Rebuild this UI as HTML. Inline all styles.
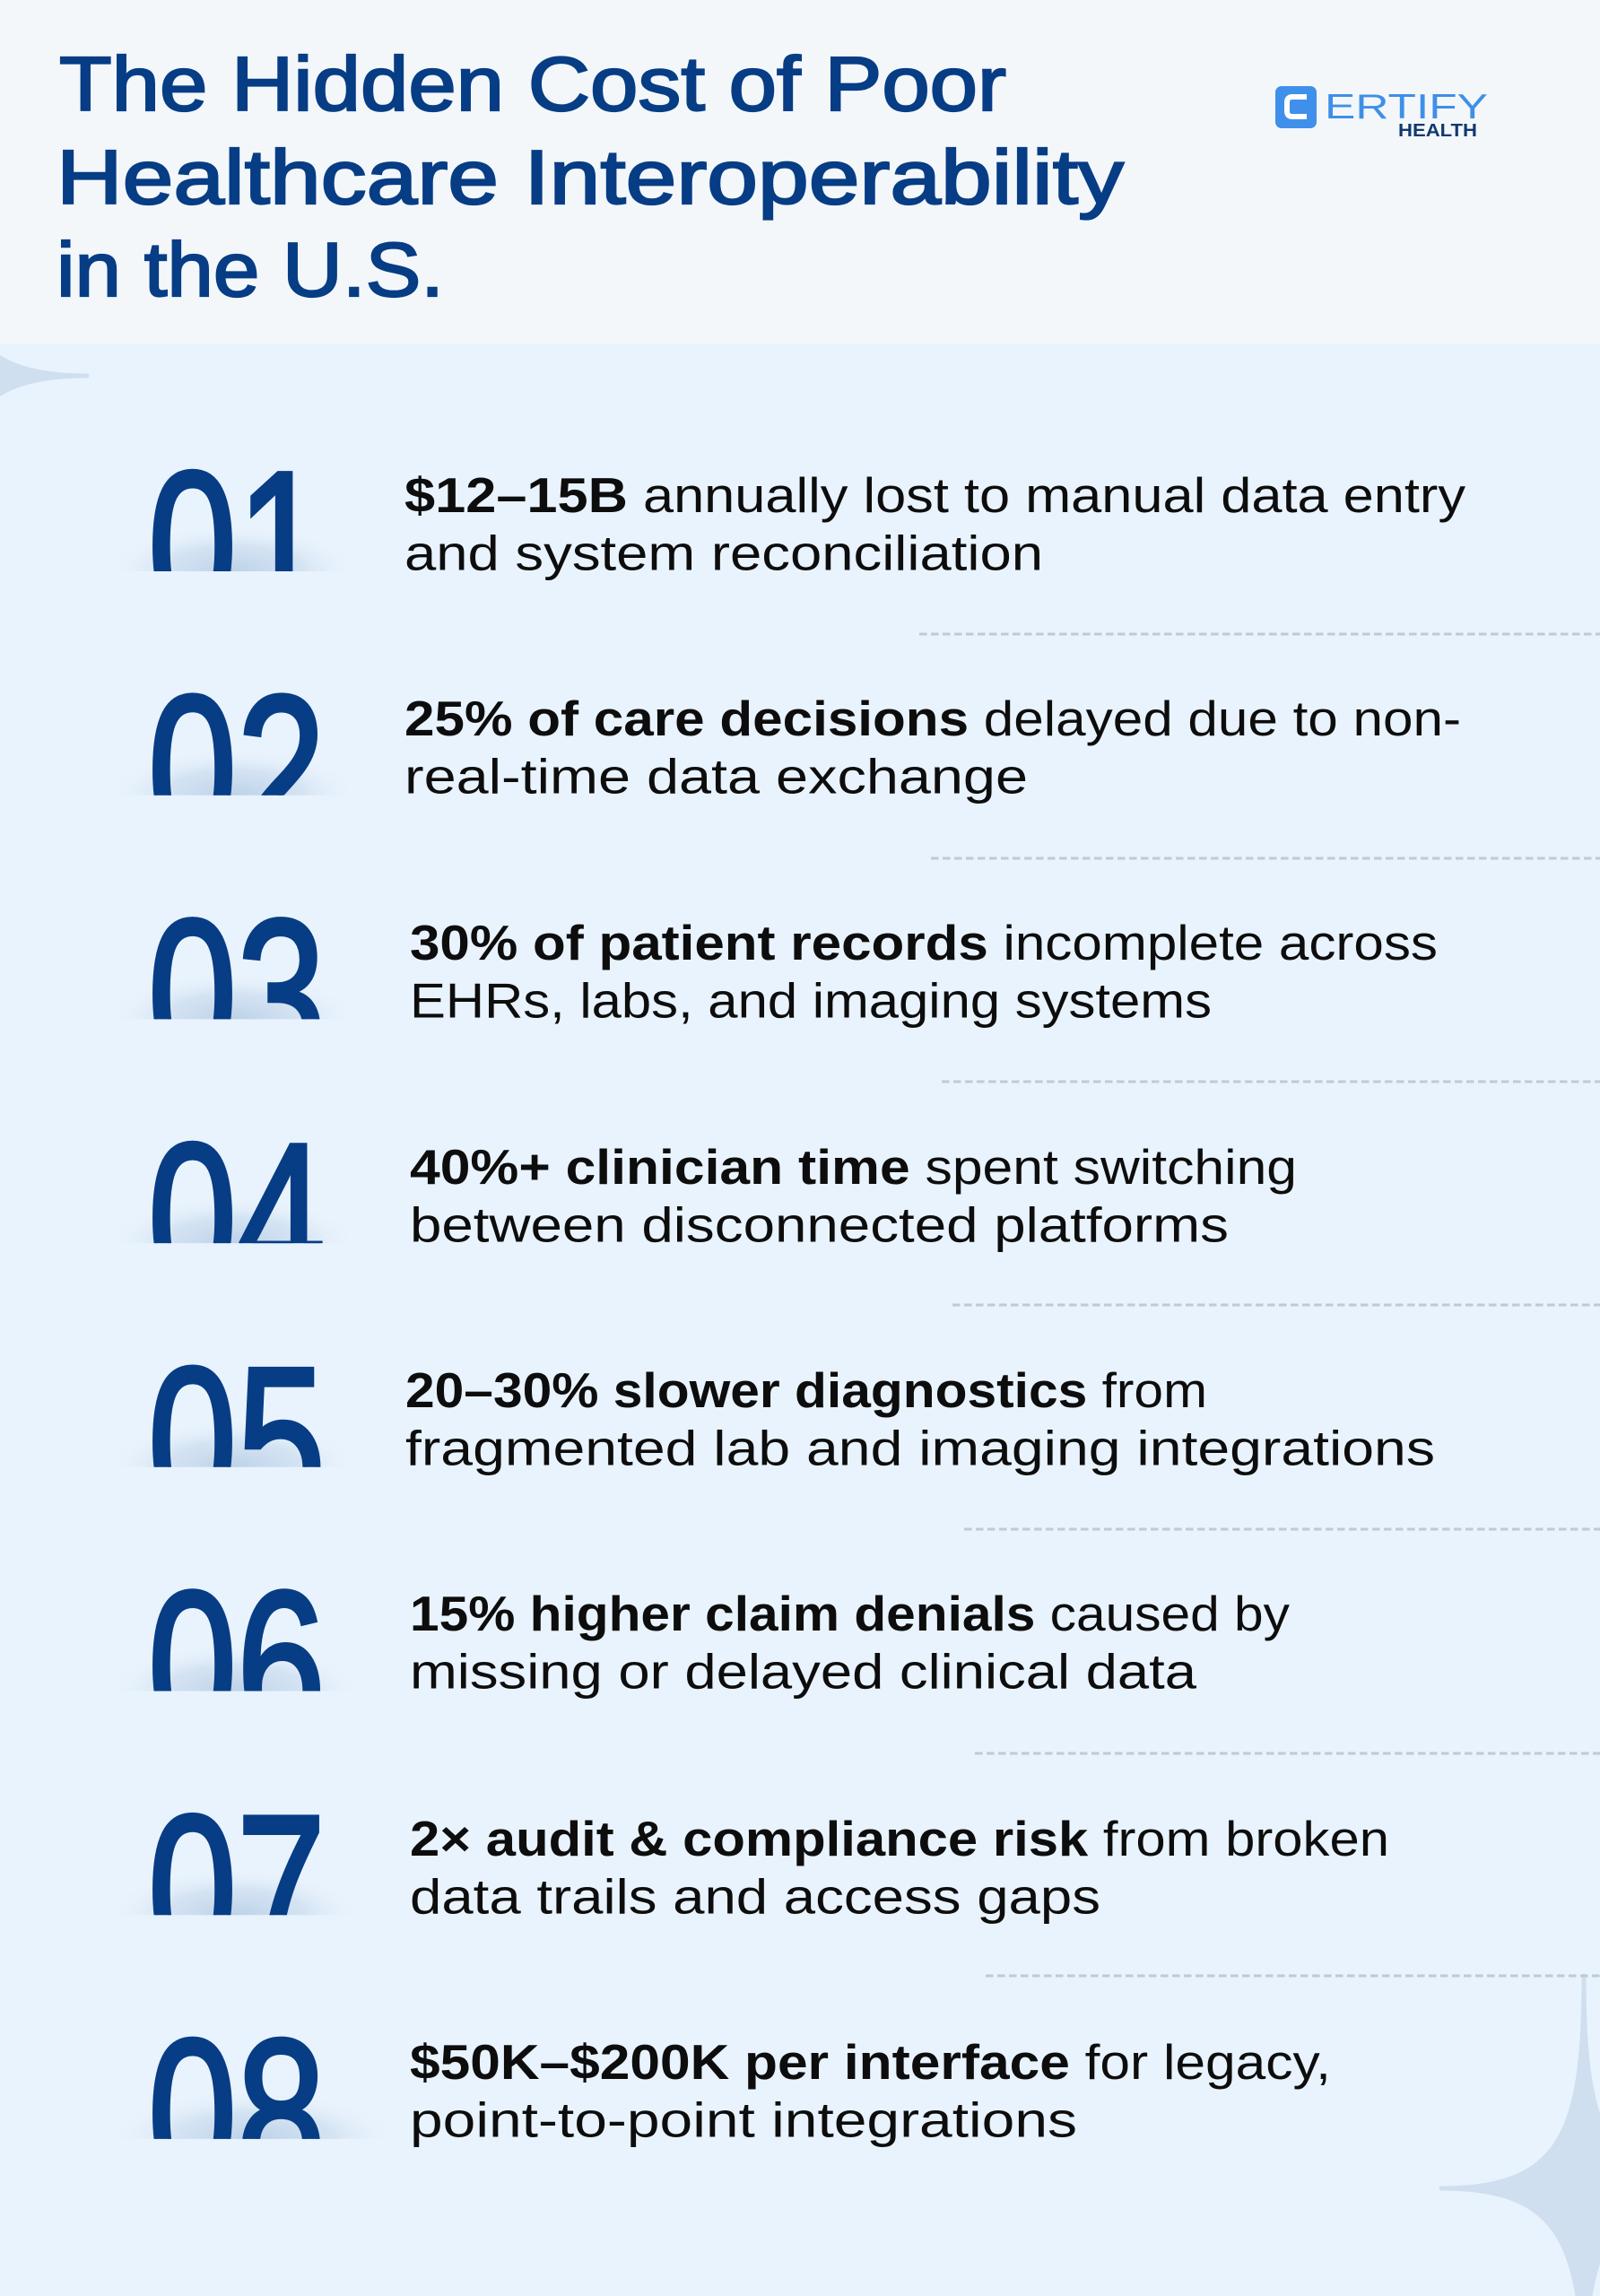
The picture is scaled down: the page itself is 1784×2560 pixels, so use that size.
<!DOCTYPE html>
<html>
<head>
<meta charset="utf-8">
<style>
html,body{margin:0;padding:0;width:1784px;height:2560px;overflow:hidden;background:#e9f3fd;}
svg{display:block;}
text{font-family:"Liberation Sans",Arial,sans-serif;}
</style>
</head>
<body>
<svg width="1784" height="2560" viewBox="0 0 1784 2560">
<defs>
  <radialGradient id="sh" cx="0.5" cy="0.5" r="0.5">
    <stop offset="0" stop-color="#bcd1e8" stop-opacity="1"/>
    <stop offset="0.55" stop-color="#cddeef" stop-opacity="0.75"/>
    <stop offset="1" stop-color="#e9f3fd" stop-opacity="0"/>
  </radialGradient>
  <clipPath id="c0"><rect x="0" y="400" width="600" height="237"/></clipPath>
  <clipPath id="c1"><rect x="0" y="650" width="600" height="236.7"/></clipPath>
  <clipPath id="c2"><rect x="0" y="900" width="600" height="236.4"/></clipPath>
  <clipPath id="c3"><rect x="0" y="1150" width="600" height="236.1"/></clipPath>
  <clipPath id="c4"><rect x="0" y="1400" width="600" height="235.8"/></clipPath>
  <clipPath id="c5"><rect x="0" y="1650" width="600" height="235.5"/></clipPath>
  <clipPath id="c6"><rect x="0" y="1900" width="600" height="235.2"/></clipPath>
  <clipPath id="c7"><rect x="0" y="2150" width="600" height="234.9"/></clipPath>
</defs>

<!-- body background -->
<rect x="0" y="0" width="1784" height="2560" fill="#e9f3fd"/>

<!-- sparkles -->
<path d="M97,419 C-36,419 -62,359 -62,182 L-300,182 L-300,656 L-62,656 C-62,479 -36,419 97,419 Z" fill="#cfdff0" stroke="#cfdff0" stroke-width="5" stroke-linejoin="round"/>
<path d="M1607,2440 C1740,2440 1766,2380 1766,2203 C1766,2380 1792,2440 1925,2440 C1792,2440 1766,2500 1766,2677 C1766,2500 1740,2440 1607,2440 Z" fill="#cfdff0" stroke="#cfdff0" stroke-width="5" stroke-linejoin="round"/>

<!-- header -->
<rect x="0" y="0" width="1784" height="383" fill="#f3f7fa"/>
<g fill="#073d85" stroke="#073d85" stroke-width="2.2" font-size="85">
  <text x="66" y="123" textLength="1056" lengthAdjust="spacingAndGlyphs">The Hidden Cost of Poor</text>
  <text x="63" y="227" textLength="1190" lengthAdjust="spacingAndGlyphs">Healthcare Interoperability</text>
  <text x="63" y="330" textLength="432" lengthAdjust="spacingAndGlyphs">in the U.S.</text>
</g>

<!-- logo -->
<rect x="1422" y="96" width="46" height="47" rx="7" fill="#3f90ea"/>
<path d="M1457,108 H1441 Q1435,108 1435,114 V124 Q1435,130 1441,130 H1457" fill="none" stroke="#ffffff" stroke-width="6"/>
<text x="1477" y="132" font-size="39" fill="#3e8fe8" textLength="182" lengthAdjust="spacingAndGlyphs">ERTIFY</text>
<text x="1559" y="152" font-size="20.5" font-weight="bold" fill="#12386f" textLength="88" lengthAdjust="spacingAndGlyphs">HEALTH</text>

<!-- shadows -->
<g>
  <ellipse cx="260" cy="637" rx="140" ry="52" fill="url(#sh)" clip-path="url(#c0)"/>
  <ellipse cx="260" cy="886.7" rx="140" ry="52" fill="url(#sh)" clip-path="url(#c1)"/>
  <ellipse cx="260" cy="1136.4" rx="140" ry="52" fill="url(#sh)" clip-path="url(#c2)"/>
  <ellipse cx="260" cy="1386.1" rx="140" ry="52" fill="url(#sh)" clip-path="url(#c3)"/>
  <ellipse cx="260" cy="1635.8" rx="140" ry="52" fill="url(#sh)" clip-path="url(#c4)"/>
  <ellipse cx="262" cy="1885.5" rx="142" ry="52" fill="url(#sh)" clip-path="url(#c5)"/>
  <ellipse cx="262" cy="2135.2" rx="142" ry="52" fill="url(#sh)" clip-path="url(#c6)"/>
  <ellipse cx="282" cy="2384.9" rx="162" ry="54" fill="url(#sh)" clip-path="url(#c7)"/>
</g>

<!-- numbers -->
<g fill="#073d85" stroke="#073d85" stroke-width="5" font-size="236">
  <text x="165" y="690" textLength="198" lengthAdjust="spacingAndGlyphs" clip-path="url(#c0)">01</text>
  <text x="165" y="939.7" textLength="198" lengthAdjust="spacingAndGlyphs" clip-path="url(#c1)">02</text>
  <text x="165" y="1189.4" textLength="198" lengthAdjust="spacingAndGlyphs" clip-path="url(#c2)">03</text>
  <text x="165" y="1439.1" textLength="198" lengthAdjust="spacingAndGlyphs" clip-path="url(#c3)">04</text>
  <text x="165" y="1688.8" textLength="198" lengthAdjust="spacingAndGlyphs" clip-path="url(#c4)">05</text>
  <text x="165" y="1938.5" textLength="198" lengthAdjust="spacingAndGlyphs" clip-path="url(#c5)">06</text>
  <text x="165" y="2188.2" textLength="198" lengthAdjust="spacingAndGlyphs" clip-path="url(#c6)">07</text>
  <text x="165" y="2437.9" textLength="198" lengthAdjust="spacingAndGlyphs" clip-path="url(#c7)">08</text>
</g>

<!-- dashed separators -->
<g stroke="#c0cad5" stroke-width="3" stroke-dasharray="8.5 4.5" fill="none">
  <line x1="1025" y1="707" x2="1784" y2="707"/>
  <line x1="1038" y1="957" x2="1784" y2="957"/>
  <line x1="1050" y1="1206" x2="1784" y2="1206"/>
  <line x1="1062" y1="1455" x2="1784" y2="1455"/>
  <line x1="1075" y1="1705" x2="1784" y2="1705"/>
  <line x1="1087" y1="1955" x2="1784" y2="1955"/>
  <line x1="1099" y1="2203" x2="1784" y2="2203"/>
</g>

<!-- body text -->
<g fill="#0d0d0d" font-size="55">
  <text x="451" y="571" textLength="1183" lengthAdjust="spacingAndGlyphs"><tspan font-weight="bold">$12–15B</tspan> annually lost to manual data entry</text>
  <text x="451" y="635.5" textLength="712" lengthAdjust="spacingAndGlyphs">and system reconciliation</text>

  <text x="451" y="820" textLength="1178" lengthAdjust="spacingAndGlyphs"><tspan font-weight="bold">25% of care decisions</tspan> delayed due to non-</text>
  <text x="451" y="884.5" textLength="695" lengthAdjust="spacingAndGlyphs">real-time data exchange</text>

  <text x="457" y="1070" textLength="1146" lengthAdjust="spacingAndGlyphs"><tspan font-weight="bold">30% of patient records</tspan> incomplete across</text>
  <text x="457" y="1134.5" textLength="894" lengthAdjust="spacingAndGlyphs">EHRs, labs, and imaging systems</text>

  <text x="457" y="1320" textLength="989" lengthAdjust="spacingAndGlyphs"><tspan font-weight="bold">40%+ clinician time</tspan> spent switching</text>
  <text x="457" y="1384.5" textLength="913" lengthAdjust="spacingAndGlyphs">between disconnected platforms</text>

  <text x="452" y="1569" textLength="894" lengthAdjust="spacingAndGlyphs"><tspan font-weight="bold">20–30% slower diagnostics</tspan> from</text>
  <text x="452" y="1633.5" textLength="1148" lengthAdjust="spacingAndGlyphs">fragmented lab and imaging integrations</text>

  <text x="457" y="1818" textLength="981" lengthAdjust="spacingAndGlyphs"><tspan font-weight="bold">15% higher claim denials</tspan> caused by</text>
  <text x="457" y="1882.5" textLength="877" lengthAdjust="spacingAndGlyphs">missing or delayed clinical data</text>

  <text x="457" y="2069" textLength="1092" lengthAdjust="spacingAndGlyphs"><tspan font-weight="bold">2× audit &amp; compliance risk</tspan> from broken</text>
  <text x="457" y="2133.5" textLength="770" lengthAdjust="spacingAndGlyphs">data trails and access gaps</text>

  <text x="457" y="2318" textLength="1027" lengthAdjust="spacingAndGlyphs"><tspan font-weight="bold">$50K–$200K per interface</tspan> for legacy,</text>
  <text x="457" y="2382.5" textLength="744" lengthAdjust="spacingAndGlyphs">point-to-point integrations</text>
</g>
</svg>
</body>
</html>
